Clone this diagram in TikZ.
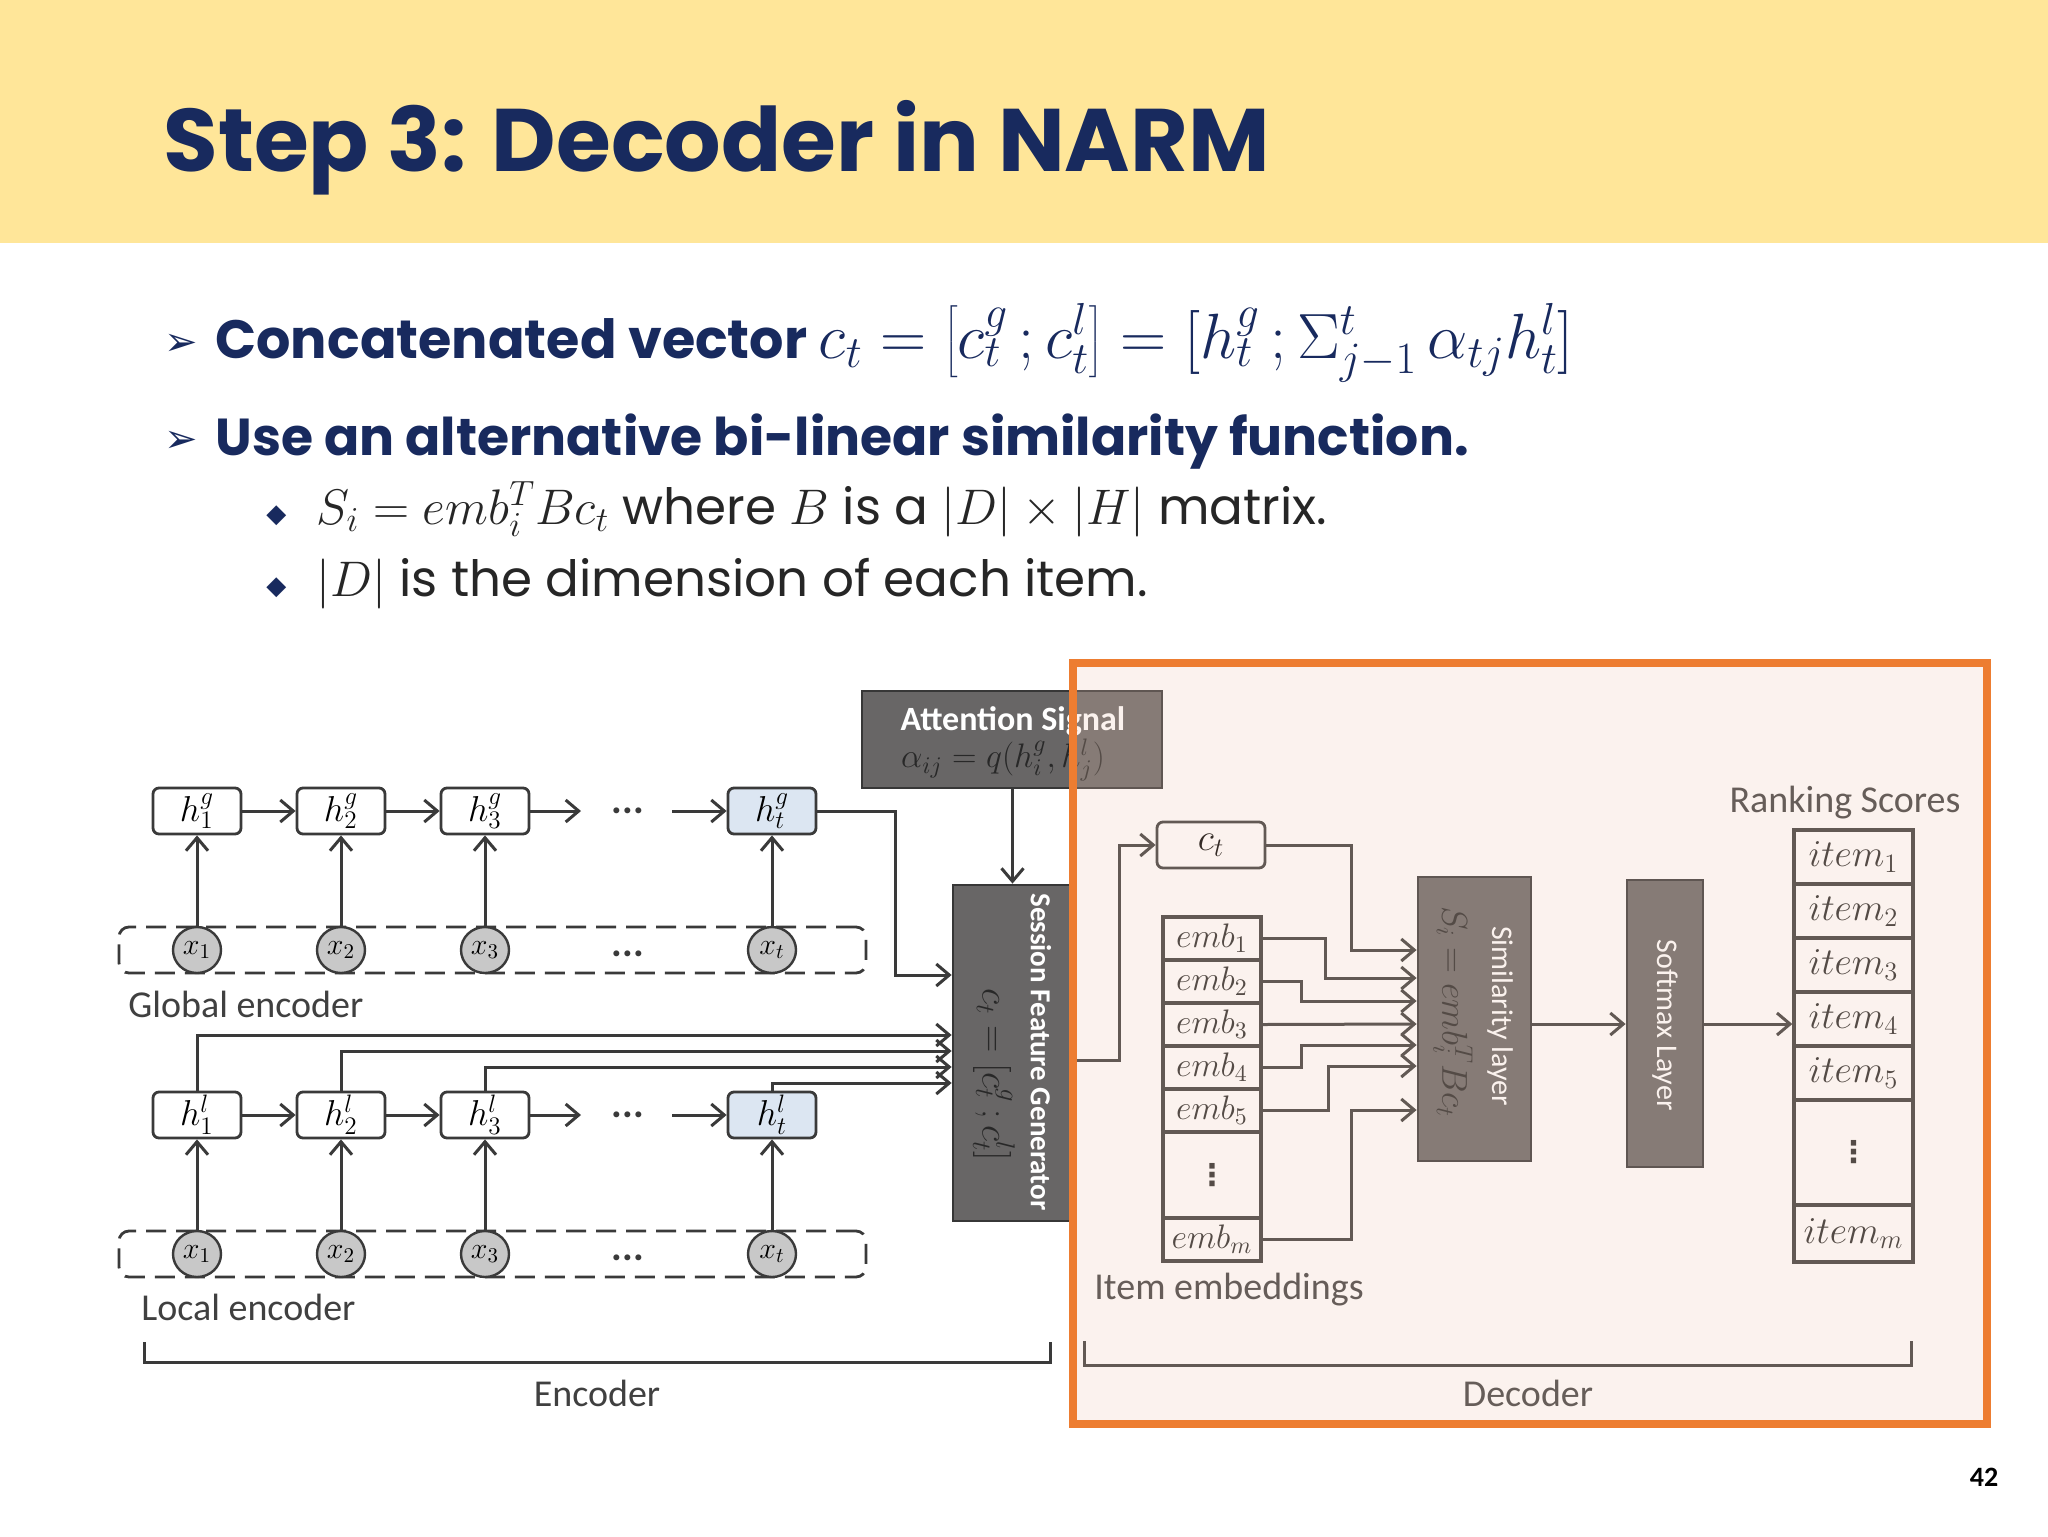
\RequirePackage{fix-cm}
\documentclass[tikz,border=0pt]{standalone}
\usepackage{fontspec}
\usepackage{graphicx}
\usetikzlibrary{arrows.meta,shapes.geometric}
\newfontfamily\gothic{Poppins}
\newfontfamily\calib{Carlito}
\newfontfamily\djv{DejaVu Sans}
\definecolor{navy}{RGB}{24,42,94}
\definecolor{banner}{RGB}{255,230,153}
\definecolor{lc}{RGB}{58,58,58}
\definecolor{boxgray}{RGB}{104,102,102}
\definecolor{boxedge}{RGB}{55,55,55}
\definecolor{xgray}{RGB}{200,200,200}
\definecolor{hblue}{RGB}{220,230,242}
\definecolor{orng}{RGB}{237,125,49}
\definecolor{tint}{RGB}{241,200,178}
\definecolor{subtext}{RGB}{38,38,38}
\definecolor{labtext}{RGB}{64,64,64}
\definecolor{formtext}{RGB}{40,40,40}
\tikzset{
  hbox/.style={draw=lc, line width=1.4pt, rounded corners=3pt, minimum width=44pt, minimum height=23pt, fill=white, inner sep=0pt, font=\fontsize{18}{18}\selectfont},
  xell/.style={draw=lc, line width=1.2pt, ellipse, minimum width=24pt, minimum height=23pt, fill=xgray, inner sep=0pt, font=\fontsize{15}{15}\selectfont},
  dashbox/.style={draw=lc, line width=1.4pt, dash pattern=on 10pt off 5pt, rounded corners=5pt, minimum width=373.5pt, minimum height=23pt, inner sep=0pt},
  conn/.style={draw=lc, line width=1.5pt},
  arr/.style={conn, -{Straight Barb[length=6.5pt,width=11pt,line width=1.5pt]}},
  dots/.style={inner sep=0pt, font=\calib\bfseries\fontsize{20}{20}\selectfont, text=lc},
  vdotstyle/.style={inner sep=0pt, font=\djv\bfseries\fontsize{15}{15}\selectfont, text=formtext},
  lab/.style={inner sep=0pt, font=\calib\fontsize{19}{19}\selectfont, text=labtext},
  graybox/.style={draw=boxedge, line width=1.4pt, fill=boxgray, inner sep=0pt},
  colbox/.style={draw=lc, line width=1.7pt, fill=white, inner sep=0pt},
  divider/.style={draw=lc, line width=1.7pt},
  celltxt/.style={inner sep=0pt, font=\fontsize{17}{17}\selectfont, text=formtext},
  itemtxt/.style={inner sep=0pt, font=\fontsize{19}{19}\selectfont, text=formtext},
  whitetxt/.style={inner sep=0pt, text=white, font=\calib\fontsize{15}{15}\selectfont},
  formula/.style={inner sep=0pt, text=formtext},
}
\begin{document}
\begin{tikzpicture}[x=0.5pt,y=-0.5pt]
\useasboundingbox (0,0) rectangle (2048,1536);
\fill[white] (0,0) rectangle (2048,1536);
\fill[banner] (0,0) rectangle (2048,243);

% title
\node[anchor=base west, inner sep=0pt, text=navy, font=\gothic\bfseries\fontsize{44.4}{48}\selectfont] (title) at (163,171) {Step 3: Decoder in NARM};

% bullets
\node[anchor=base west, inner sep=0pt, text=navy, font=\djv\fontsize{20}{20}\selectfont] (bul1) at (164,355) {➢};
\node[anchor=base west, inner sep=0pt, text=navy, font=\gothic\bfseries\fontsize{27}{30}\selectfont] (txt1) at (215,358)
  {Concatenated vector {\fontsize{32}{32}\selectfont$c_t=\left[c_t^g\,;c_t^l\right]=[h_t^g\,;\Sigma_{j-1}^t\,\alpha_{tj}h_t^l]$}};
\node[anchor=base west, inner sep=0pt, text=navy, font=\djv\fontsize{20}{20}\selectfont] (bul2) at (164,452) {➢};
\node[anchor=base west, inner sep=0pt, text=navy, font=\gothic\bfseries\fontsize{26}{30}\selectfont] (txt2) at (215,455)
  {Use an alternative bi-linear similarity function.};
\node[anchor=base west, inner sep=0pt, text=navy, font=\djv\fontsize{13}{13}\selectfont] (dia1) at (266,522) {◆};
\node[anchor=base west, inner sep=0pt, text=subtext, font=\gothic\fontsize{25}{26}\selectfont] (sub1) at (316,524)
  {$S_i=emb_i^T Bc_t$ where $B$ is a $|D|\times|H|$ matrix.};
\node[anchor=base west, inner sep=0pt, text=navy, font=\djv\fontsize{13}{13}\selectfont] (dia2) at (266,594) {◆};
\node[anchor=base west, inner sep=0pt, text=subtext, font=\gothic\fontsize{25}{26}\selectfont] (sub2) at (316,596)
  {$|D|$ is the dimension of each item.};

% page number
\node[inner sep=0pt, font=\calib\bfseries\fontsize{14}{14}\selectfont, text=black] (pnum) at (1984,1477) {42};

% ---------------- encoder ----------------
\node[dashbox] (gdash) at (492.5,950) {};
\node[dashbox] (ldash) at (492.5,1254) {};

\node[hbox] (hg1) at (197,811) {$h_1^g$};
\node[hbox] (hg2) at (341,811) {$h_2^g$};
\node[hbox] (hg3) at (485,811) {$h_3^g$};
\node[hbox, fill=hblue] (hgt) at (772,811) {$h_t^g$};
\node[xell] (xg1) at (197,950) {$x_1$};
\node[xell] (xg2) at (341,950) {$x_2$};
\node[xell] (xg3) at (485,950) {$x_3$};
\node[xell] (xgt) at (772,950) {$x_t$};
\node[dots] (gdots1) at (628,811) {...};
\node[dots] (gdots2) at (628,954) {...};
\coordinate (ga) at (581,811);
\coordinate (gb) at (672,811);

\node[hbox] (hl1) at (197,1115) {$h_1^l$};
\node[hbox] (hl2) at (341,1115) {$h_2^l$};
\node[hbox] (hl3) at (485,1115) {$h_3^l$};
\node[hbox, fill=hblue] (hlt) at (772,1115) {$h_t^l$};
\node[xell] (xl1) at (197,1254) {$x_1$};
\node[xell] (xl2) at (341,1254) {$x_2$};
\node[xell] (xl3) at (485,1254) {$x_3$};
\node[xell] (xlt) at (772,1254) {$x_t$};
\node[dots] (ldots1) at (628,1115) {...};
\node[dots] (ldots2) at (628,1258) {...};
\coordinate (la) at (581,1115);
\coordinate (lb) at (672,1115);

\node[lab, anchor=west] (glab) at (128,1004) {Global encoder};
\node[lab, anchor=west] (llab) at (141,1307) {Local encoder};

% attention and session boxes
\node[graybox, minimum width=150pt, minimum height=48.5pt] (att) at (1012,739.5) {};
\node[inner sep=0pt, text=white, font=\calib\bfseries\fontsize{17}{17}\selectfont] (attl) at (1013,721) {Attention Signal};
\node[formula, font=\fontsize{17}{17}\selectfont] (attf) at (1003,760) {$\alpha_{ij}=q(h_i^g,h_j^l)$};

\node[graybox, minimum width=59.5pt, minimum height=168pt] (sess) at (1012.5,1053) {};
\node[whitetxt, font=\calib\bfseries\fontsize{14.5}{15}\selectfont] (sesst) at (1041,1052) {\rotatebox{-90}{Session Feature Generator}};
\node[formula, font=\fontsize{19}{19}\selectfont] (sessf) at (994,1075) {\rotatebox{-90}{$c_t=[c_t^g\,;c_t^l]$}};

% encoder connectors
\draw[arr] (hg1) -- (hg2);
\draw[arr] (hg2) -- (hg3);
\draw[arr] (hg3) -- (ga);
\draw[arr] (gb) -- (hgt);
\draw[arr] (xg1) -- (hg1);
\draw[arr] (xg2) -- (hg2);
\draw[arr] (xg3) -- (hg3);
\draw[arr] (xgt) -- (hgt);
\draw[arr] (hl1) -- (hl2);
\draw[arr] (hl2) -- (hl3);
\draw[arr] (hl3) -- (la);
\draw[arr] (lb) -- (hlt);
\draw[arr] (xl1) -- (hl1);
\draw[arr] (xl2) -- (hl2);
\draw[arr] (xl3) -- (hl3);
\draw[arr] (xlt) -- (hlt);

\coordinate (y975) at (0,975);
\coordinate (y1035) at (0,1035);
\coordinate (y1051) at (0,1051);
\coordinate (y1067) at (0,1067);
\coordinate (y1083) at (0,1083);
\draw[arr] (hgt.east) -- ++(78,0) |- (sess.west |- y975);
\draw[arr] (hl1.north) |- (sess.west |- y1035);
\draw[arr] (hl2.north) |- (sess.west |- y1051);
\draw[arr] (hl3.north) |- (sess.west |- y1067);
\draw[arr] (hlt.north) |- (sess.west |- y1083);
\draw[arr] (att.south -| sess.north) -- (sess.north);

% encoder bracket
\draw[conn] (144,1342) |- (1050,1362) -- (1050,1342);
\node[lab] (enclab) at (597,1393) {Encoder};

% ---------------- decoder ----------------
\node[hbox, minimum width=54pt, font=\fontsize{19}{19}\selectfont] (ct) at (1211,845) {$c_t$};

% item embeddings column
\node[colbox, minimum width=49pt, minimum height=172pt] (ecol) at (1212,1089) {};
\foreach \yy in {960,1003,1046,1089,1132,1218}{
  \draw[divider] (ecol.west |- 0,\yy) -- (ecol.east |- 0,\yy);
}
\node[celltxt] (e1) at (1212,938.5) {$emb_1$};
\node[celltxt] (e2) at (1212,981.5) {$emb_2$};
\node[celltxt] (e3) at (1212,1024.5) {$emb_3$};
\node[celltxt] (e4) at (1212,1067.5) {$emb_4$};
\node[celltxt] (e5) at (1212,1110.5) {$emb_5$};
\node[vdotstyle] (edots) at (1212,1175) {⋮};
\node[celltxt] (em) at (1212,1239.5) {$emb_m$};
\node[lab, anchor=west] (elab) at (1094,1290) {Item embeddings};

\node[graybox, minimum width=56.5pt, minimum height=142pt] (sim) at (1474.5,1019) {};
\node[whitetxt] (simt) at (1500,1016) {\rotatebox{-90}{Similarity layer}};
\node[formula, font=\fontsize{18}{18}\selectfont] (simf) at (1453,1012) {\rotatebox{-90}{$S_i=emb_i^T Bc_t$}};

\node[graybox, minimum width=38pt, minimum height=143.5pt] (soft) at (1665,1023.5) {};
\node[whitetxt] (softt) at (1665,1025) {\rotatebox{-90}{Softmax Layer}};

% ranking scores column
\node[colbox, minimum width=59.5pt, minimum height=216pt] (icol) at (1853.5,1046) {};
\foreach \yy in {884,938,992,1046,1100,1205}{
  \draw[divider] (icol.west |- 0,\yy) -- (icol.east |- 0,\yy);
}
\node[itemtxt] (i1) at (1853.5,857) {$item_1$};
\node[itemtxt] (i2) at (1853.5,911) {$item_2$};
\node[itemtxt] (i3) at (1853.5,965) {$item_3$};
\node[itemtxt] (i4) at (1853.5,1019) {$item_4$};
\node[itemtxt] (i5) at (1853.5,1073) {$item_5$};
\node[vdotstyle] (idots) at (1853.5,1152.5) {⋮};
\node[itemtxt] (im) at (1853.5,1233.5) {$item_m$};
\node[lab] (rlab) at (1845,803) {Ranking Scores};

% decoder connectors
\coordinate (y1060) at (0,1060);
\coordinate (y950) at (0,950);
\coordinate (y978) at (0,978);
\coordinate (y1001) at (0,1001);
\coordinate (y1024) at (0,1024);
\coordinate (y1045) at (0,1045);
\coordinate (y1066) at (0,1066);
\coordinate (y1110) at (0,1110);
\draw[arr] (sess.east |- y1060) -- ++(46,0) |- (ct.west);
\draw[arr] (ct.east) -- ++(85,0) |- (sim.west |- y950);
\draw[arr] (ecol.east |- e1) -- ++(63,0) |- (sim.west |- y978);
\draw[arr] (ecol.east |- e2) -- ++(39,0) |- (sim.west |- y1001);
\draw[arr] (ecol.east |- e3) -- (sim.west |- y1024);
\draw[arr] (ecol.east |- e4) -- ++(39,0) |- (sim.west |- y1045);
\draw[arr] (ecol.east |- e5) -- ++(66,0) |- (sim.west |- y1066);
\draw[arr] (ecol.east |- em) -- ++(89,0) |- (sim.west |- y1110);
\draw[arr] (sim.east |- y1024) -- (soft.west |- y1024);
\draw[arr] (soft.east |- y1024) -- (icol.west |- y1024);

% decoder bracket
\draw[conn] (1084,1341) |- (1911,1365) -- (1911,1341);
\node[lab] (declab) at (1528,1393) {Decoder};

% orange highlight
\fill[tint, opacity=0.22] (1073,663) rectangle (1987,1424);
\draw[orng, line width=4pt] (1073,663) rectangle (1987,1424);
\end{tikzpicture}
\end{document}
